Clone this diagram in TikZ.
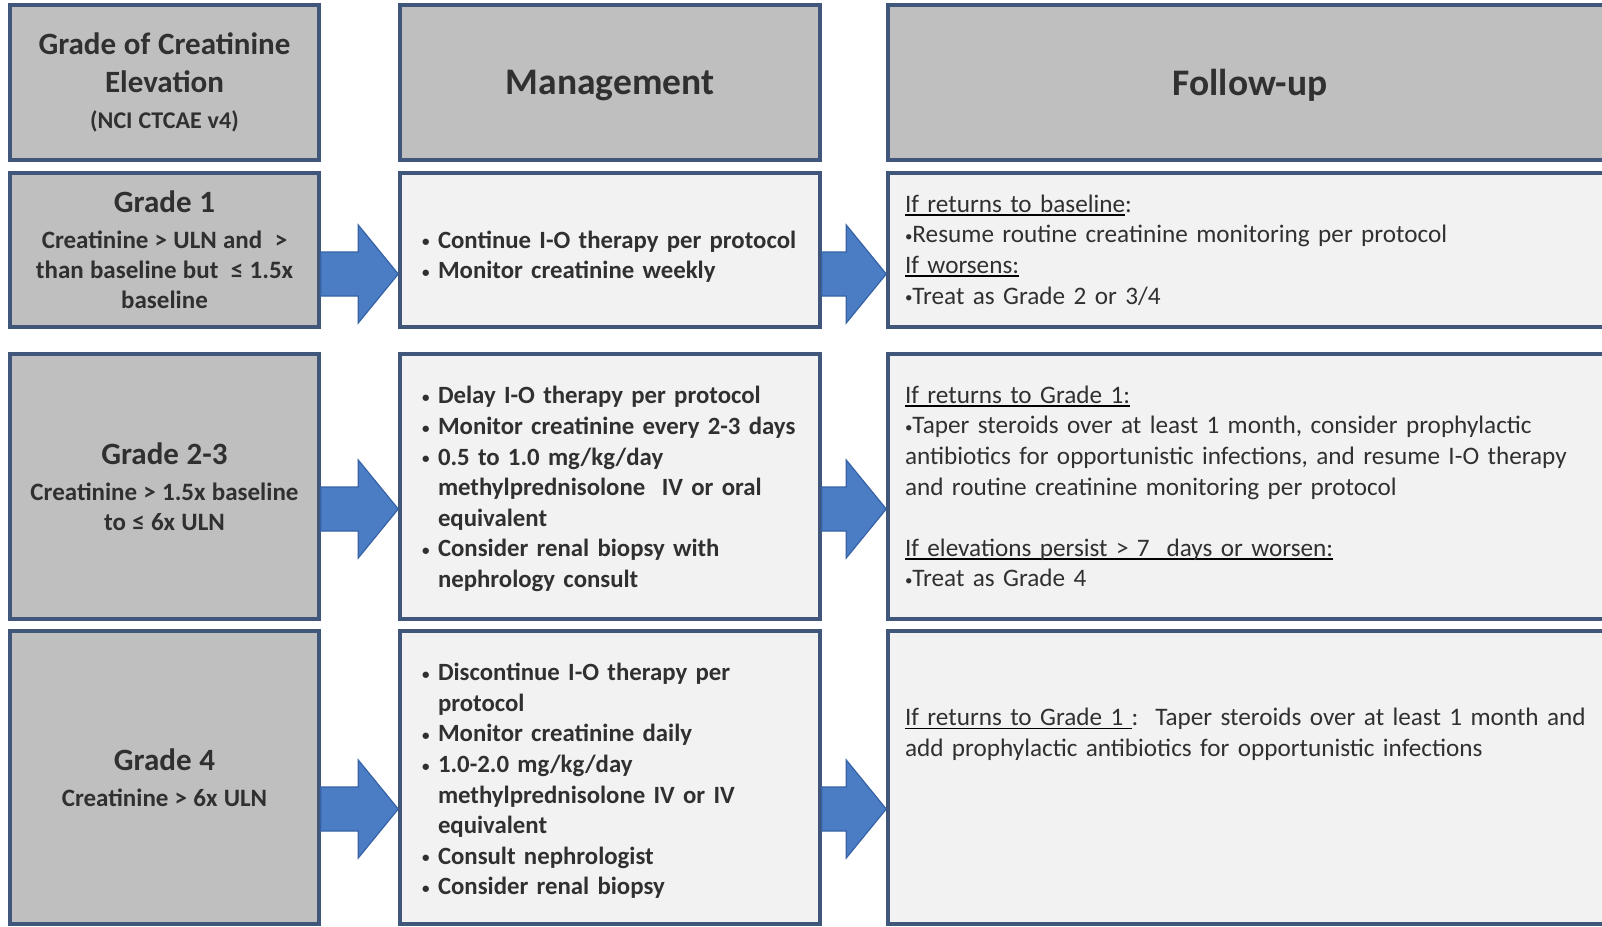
\documentclass[tikz,border=0pt]{standalone}
\usepackage{fontspec}
\setmainfont{Carlito}
\usepackage{tikz}
\usetikzlibrary{calc}
\definecolor{boxborder}{HTML}{40567A}
\definecolor{gradefill}{HTML}{BFBFBF}
\definecolor{bodyfill}{HTML}{F2F2F2}
\definecolor{arrowblue}{HTML}{4A7DC4}
\definecolor{arrowedge}{HTML}{3763A6}
\definecolor{textgray}{HTML}{303030}
\newsavebox{\ulinebox}
\newcommand{\uline}[1]{% underline at a fixed depth
\leavevmode\sbox{\ulinebox}{#1}\rlap{\color{black}\rule[-3.5pt]{\wd\ulinebox}{1.6pt}}\usebox{\ulinebox}}
\newcommand{\dotmark}{\raisebox{1.5pt}{\fontsize{15}{15}\selectfont\textbullet}}
\newcommand{\bul}[1]{% bullet line with hanging indent
\par\hangindent=16pt\hangafter=1\noindent\makebox[16pt][l]{\dotmark}#1\par}
\newcommand{\liftup}[1]{\par\vskip #1\hrule height 0pt width 0pt}
\newcommand{\wide}{\spaceskip=0.25em\relax}
\newcommand{\gradetitle}[2]{%
{\fontsize{31}{38}\selectfont\wide #1\par}\vskip 6pt
{\fontsize{25}{30}\selectfont\wide #2\par}}
\newcommand{\blockarrow}[3]{%
\filldraw[flowarrow] let \p1=(#1.east), \p2=(#2.west) in
    (\x1,-#3pt+22pt) -- (\x2-40pt,-#3pt+22pt) -- (\x2-40pt,-#3pt+49pt) -- (\x2,-#3pt)
    -- (\x2-40pt,-#3pt-49pt) -- (\x2-40pt,-#3pt-22pt) -- (\x1,-#3pt-22pt) -- cycle;}
\tikzstyle{basebox} = [
    draw=boxborder,
    line width=3.5pt,
    rectangle,
    inner sep=0pt,
    text=textgray
    ]
\tikzstyle{graybox} = [basebox, fill=gradefill, font=\bfseries]
\tikzstyle{headbox} = [graybox, minimum height=155pt, text depth=0pt,
    font=\bfseries\fontsize{37.5}{40}\selectfont]
\tikzstyle{gradecol} = [graybox, minimum width=309pt, text width=300pt, align=center]
\tikzstyle{mgmtbox} = [basebox, fill=bodyfill, minimum width=420pt, text width=376pt,
    align=left, font=\bfseries\fontsize{24.8}{30.6}\selectfont]
\tikzstyle{followbox} = [basebox, fill=bodyfill, minimum width=724pt, text width=690pt,
    align=left, font=\fontsize{25.2}{30.6}\selectfont]
\tikzstyle{flowarrow} = [fill=arrowblue, draw=arrowedge, line width=1.2pt]

\begin{document}
\begin{tikzpicture}[x=1pt, y=-1pt]
\useasboundingbox[fill=white] (0,0) rectangle (1602,926);

% column headers
\node[gradecol, minimum height=155pt] (gradehead) at (164.5,82.5) {%
    {\fontsize{31}{38}\selectfont\wide Grade of Creatinine\\Elevation\par}
    {\fontsize{24}{36}\selectfont\wide (NCI CTCAE v4)\par}};
\node[headbox, minimum width=420pt] (mgmthead) at (610,82.5) {Management};
\node[headbox, minimum width=724pt] (followhead) at (1250,82.5) {Follow-up};

% grade 1
\node[gradecol, minimum height=154pt] (grade1) at (164.5,250) {%
    \gradetitle{Grade 1}{Creatinine > ULN and\ \ >\\than baseline but\ \ ≤ 1.5x\\baseline}};
\node[mgmtbox, minimum height=154pt] (mgmt1) at (610,250) {%
    \bul{Continue I-O therapy per protocol}
    \bul{Monitor creatinine weekly}};
\node[followbox, minimum height=154pt] (follow1) at (1250,250) {%
    \uline{If returns to baseline}:\\
    \dotmark Resume routine creatinine monitoring per protocol\\
    \uline{If worsens:}\\
    \dotmark Treat as Grade 2 or 3/4};

% grade 2-3
\node[gradecol, minimum height=265pt] (grade23) at (164.5,486.5) {%
    \gradetitle{Grade 2-3}{Creatinine > 1.5x baseline\\to ≤ 6x ULN}};
\node[mgmtbox, minimum height=265pt] (mgmt23) at (610,486.5) {%
    \bul{Delay I-O therapy per protocol}
    \bul{Monitor creatinine every 2-3 days}
    \bul{0.5 to 1.0 mg/kg/day\newline methylprednisolone\ \ IV or oral\newline equivalent}
    \bul{Consider renal biopsy with\newline nephrology consult}
    \liftup{8pt}};
\node[followbox, minimum height=265pt] (follow23) at (1250,486.5) {%
    \uline{If returns to Grade 1:}\\
    \dotmark Taper steroids over at least 1 month, consider prophylactic\\
    antibiotics for opportunistic infections, and resume I-O therapy\\
    and routine creatinine monitoring per protocol\\[30.6pt]
    \uline{If elevations persist > 7\ \ days or worsen:}\\
    \dotmark Treat as Grade 4};

% grade 4
\node[gradecol, minimum height=293pt] (grade4) at (164.5,777.5) {%
    \gradetitle{Grade 4}{Creatinine > 6x ULN}};
\node[mgmtbox, minimum height=293pt] (mgmt4) at (610,777.5) {%
    \bul{Discontinue I-O therapy per\newline protocol}
    \bul{Monitor creatinine daily}
    \bul{1.0-2.0 mg/kg/day\newline methylprednisolone IV or IV\newline equivalent}
    \bul{Consult nephrologist}
    \bul{Consider renal biopsy}
    \liftup{6pt}};
\node[followbox, minimum height=293pt] (follow4) at (1250,777.5) {%
    \uline{If returns to Grade 1 }:\ \ Taper steroids over at least 1 month and\\
    add prophylactic antibiotics for opportunistic infections\\[60pt]\mbox{}};

% arrows
\blockarrow{grade1}{mgmt1}{274}
\blockarrow{mgmt1}{follow1}{274}
\blockarrow{grade23}{mgmt23}{509}
\blockarrow{mgmt23}{follow23}{509}
\blockarrow{grade4}{mgmt4}{809}
\blockarrow{mgmt4}{follow4}{809}
\end{tikzpicture}
\end{document}
